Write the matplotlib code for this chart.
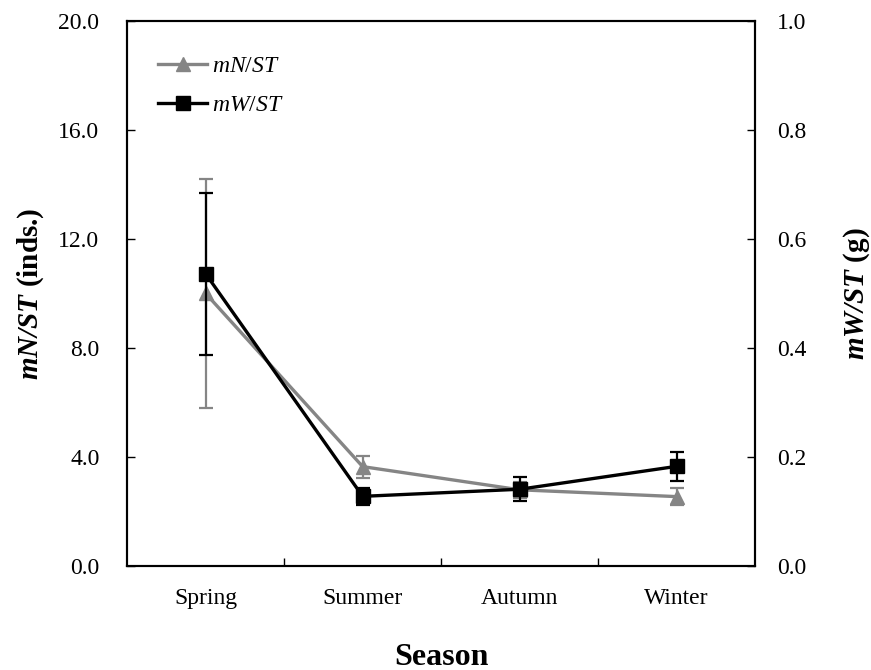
import numpy as np
import matplotlib
matplotlib.use("Agg")
import matplotlib.pyplot as plt
from matplotlib.lines import Line2D

plt.rcParams['font.family'] = ['Liberation Serif', 'DejaVu Serif']
plt.rcParams['mathtext.fontset'] = 'custom'
plt.rcParams['mathtext.rm'] = 'Liberation Serif'
plt.rcParams['mathtext.it'] = 'Liberation Serif:italic'
plt.rcParams['mathtext.bf'] = 'Liberation Serif:bold'
plt.rcParams['mathtext.bfit'] = 'Liberation Serif:bold:italic'

seasons = ["Spring", "Summer", "Autumn", "Winter"]
mN = [10.0, 3.65, 2.8, 2.55]
mN_err = [4.2, 0.4, 0.3, 0.3]
mW = [0.536, 0.128, 0.141, 0.183]
mW_err = [0.148, 0.015, 0.022, 0.027]

x = np.arange(len(seasons))
gray = "#858585"

fig = plt.figure(figsize=(8.71, 6.70), dpi=100)
ax = fig.add_axes([0.146, 0.155, 0.721, 0.814])
ax2 = ax.twinx()

ax.errorbar(x, mN, yerr=mN_err, color=gray, marker="^", markersize=9.5,
            lw=2.4, elinewidth=1.6, capsize=5, capthick=1.6, zorder=2)
ax2.errorbar(x, mW, yerr=mW_err, color="black", marker="s", markersize=9.5,
             lw=2.4, elinewidth=1.6, capsize=5, capthick=1.6, zorder=3)

ax.set_xlim(-0.5, 3.5)
ax.set_ylim(0, 20)
ax2.set_ylim(0, 1)
ax.set_yticks(np.arange(0, 20.1, 4))
ax.set_yticklabels(["%.1f" % v for v in np.arange(0, 20.1, 4)])
ax2.set_yticks(np.arange(0, 1.01, 0.2))
ax2.set_yticklabels(["%.1f" % v for v in np.arange(0, 1.01, 0.2)])

ax.set_xticks([0.5, 1.5, 2.5])
ax.set_xticklabels([])
ax.set_xticks(x, minor=True)
ax.set_xticklabels(seasons, minor=True)
ax.tick_params(axis="x", which="minor", length=0, pad=16, labelsize=17)
ax.tick_params(axis="x", which="major", direction="in", length=6, width=1)
ax.tick_params(axis="y", direction="in", length=6, width=1, labelsize=17, pad=20)
ax2.tick_params(axis="y", direction="in", length=6, width=1, labelsize=17, pad=16)

for a in (ax, ax2):
    for s in a.spines.values():
        s.set_linewidth(1.5)

ax.set_xlabel("Season", fontsize=23, fontweight="bold", labelpad=24)
ax.set_ylabel(r"$\mathbfit{mN/ST}$ (inds.)", fontsize=21, fontweight="bold", labelpad=9)
ax2.set_ylabel(r"$\mathbfit{mW/ST}$ (g)", fontsize=21, fontweight="bold", labelpad=25)

ax2.set_zorder(ax.get_zorder() + 1)
hN = Line2D([], [], color=gray, marker="^", markersize=9.5, lw=2.4)
hW = Line2D([], [], color="black", marker="s", markersize=9.5, lw=2.4)
ax2.legend([hN, hW], ["$\\it{mN/ST}$", "$\\it{mW/ST}$"], loc="upper left",
           bbox_to_anchor=(0.015, 0.975), frameon=False, fontsize=17,
           handlelength=2.1, handletextpad=0.2, labelspacing=0.75)

fig.savefig("out.png", dpi=100)
